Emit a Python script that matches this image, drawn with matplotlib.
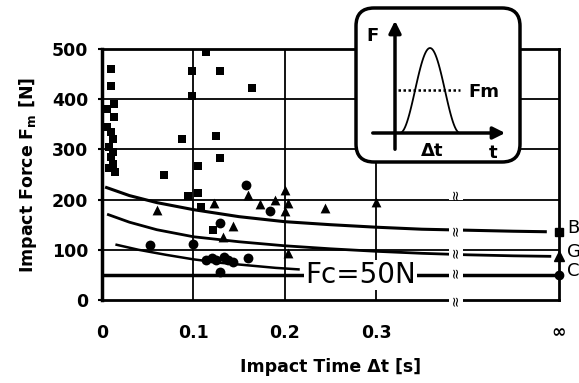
import numpy as np
import matplotlib
matplotlib.use('Agg')
import matplotlib.pyplot as plt
from matplotlib.patches import FancyBboxPatch

plt.rcParams['font.family'] = ['DejaVu Sans']

# scatter data: impact time [s], impact force [N]
sq_t = [0.010, 0.010, 0.013, 0.005, 0.013, 0.006, 0.010, 0.012, 0.008, 0.012, 0.010, 0.012,
        0.014, 0.008, 0.114, 0.099, 0.129, 0.164, 0.099, 0.125, 0.087, 0.129, 0.105, 0.068,
        0.094, 0.105, 0.108, 0.121]
sq_F = [460, 427, 390, 380, 365, 345, 335, 320, 305, 295, 285, 270,
        255, 262, 494, 456, 456, 423, 406, 326, 320, 282, 266, 250,
        208, 214, 186, 140]

tri_t = [0.060, 0.123, 0.143, 0.160, 0.173, 0.189, 0.200, 0.203, 0.200, 0.203, 0.244, 0.300, 0.132]
tri_F = [180, 194, 148, 210, 192, 200, 220, 194, 178, 94, 184, 196, 126]

cir_t = [0.052, 0.0995, 0.114, 0.120, 0.125, 0.134, 0.138, 0.143, 0.160, 0.129, 0.158, 0.184, 0.129]
cir_F = [110, 112, 80, 84, 80, 86, 80, 76, 84, 56, 230, 178, 154]

# fitted curves
B_t = [0.005, 0.03, 0.06, 0.10, 0.15, 0.20, 0.25, 0.30, 0.35, 0.40, 0.45, 0.485]
B_F = [224, 208, 194, 180, 166, 156, 150, 145, 141, 139, 137, 136]
G_t = [0.007, 0.03, 0.06, 0.10, 0.15, 0.20, 0.25, 0.30, 0.35, 0.40, 0.45, 0.49]
G_F = [170, 155, 140, 126, 116, 108, 102, 97, 93, 90, 88, 87]
C_t = [0.016, 0.04, 0.07, 0.10, 0.13, 0.16, 0.19, 0.215]
C_F = [110, 100, 90, 81, 74, 69, 64, 61]

Fc = 50
inf_F = {'B': 136, 'G': 88, 'C': 50}
t_inf = 0.5
t_break = 0.387
break_F = [210, 139, 95, 55, 0]

fig = plt.figure(figsize=(5.79, 3.83), dpi=100)
ax = fig.add_axes([102 / 579, 83 / 383, 457 / 579, 251 / 383])

ax.set_xlim(0, t_inf)
ax.set_ylim(0, 500)
ax.set_xticks([0, 0.1, 0.2, 0.3, t_inf])
ax.set_xticklabels(['0', '0.1', '0.2', '0.3', '∞'])
ax.set_yticks([0, 100, 200, 300, 400, 500])
ax.tick_params(axis='both', labelsize=12.5, length=3, width=1.5, direction='out')
ax.tick_params(axis='x', pad=17, length=0)
ax.tick_params(axis='y', pad=7)
for lbl in ax.get_xticklabels() + ax.get_yticklabels():
    lbl.set_fontweight('bold')
for s in ax.spines.values():
    s.set_linewidth(2)
ax.spines['left'].set_linewidth(2.5)

for y in [100, 200, 300, 400]:
    ax.axhline(y, color='k', lw=1.3, zorder=1)
for x in [0.1, 0.2, 0.3]:
    ax.axvline(x, color='k', lw=1.3, zorder=1)

ax.plot(B_t, B_F, color='k', lw=2.2, zorder=2)
ax.plot(G_t, G_F, color='k', lw=2.0, zorder=2)
ax.plot(C_t, C_F, color='k', lw=1.8, zorder=2)
ax.axhline(Fc, color='k', lw=2.5, zorder=2)

ax.scatter(sq_t, sq_F, marker='s', s=34, color='k', zorder=3, linewidths=0)
ax.scatter(tri_t, tri_F, marker='^', s=50, color='k', zorder=3, linewidths=0)
ax.scatter(cir_t, cir_F, marker='o', s=50, color='k', zorder=3, linewidths=0)

ax.plot([t_inf], [inf_F['B']], 's', color='k', ms=6, clip_on=False, zorder=4)
ax.plot([t_inf], [inf_F['G']], '^', color='k', ms=7, clip_on=False, zorder=4)
ax.plot([t_inf], [inf_F['C']], 'o', color='k', ms=6, clip_on=False, zorder=4)
for lab, f in inf_F.items():
    ax.text(t_inf + 0.009, f + 8, lab, fontsize=13, va='center', ha='left', clip_on=False)

ax.text(0.283, Fc, 'Fc=50N', fontsize=20, ha='center', va='center', zorder=5,
        bbox=dict(facecolor='white', edgecolor='none', pad=0.5))

# axis break marks
for f in break_F:
    ax.text(t_break, f, '≈', rotation=90, fontsize=10, ha='center', va='center', zorder=5,
            clip_on=False, bbox=dict(facecolor='white', edgecolor='none', pad=0))

ax.set_ylabel('Impact Force F$_\\mathregular{m}$ [N]', fontsize=12.5, fontweight='bold', labelpad=9)
ax.set_xlabel('Impact Time Δt [s]', fontsize=12.5, fontweight='bold', labelpad=12)

# inset sketch of the force pulse
ins = fig.add_axes([350 / 579, (383 - 168) / 383, 177 / 579, 166 / 383])
ins.set_xlim(350, 527)
ins.set_ylim(168, 2)
ins.axis('off')
ins.add_patch(FancyBboxPatch((356, 8), 164, 154, boxstyle='round,pad=0,rounding_size=18',
                             facecolor='white', edgecolor='k', lw=2.5))
ins.annotate('', xy=(395, 18), xytext=(395, 152),
             arrowprops=dict(arrowstyle='-|>', lw=2.5, color='k', mutation_scale=18))
ins.annotate('', xy=(508, 133), xytext=(370, 133),
             arrowprops=dict(arrowstyle='-|>', lw=2.5, color='k', mutation_scale=18))
px = np.linspace(400, 460, 60)
ins.plot(px, 133 - 85 * np.sin(np.pi * (px - 400) / 60) ** 2, color='k', lw=1.3)
ins.plot([398, 460], [90, 90], color='k', lw=1.8, ls=(0, (1, 1)))
ins.text(373, 36, 'F', fontsize=13, fontweight='bold', ha='center', va='center')
ins.text(468, 92, 'Fm', fontsize=13, fontweight='bold', ha='left', va='center')
ins.text(432, 151, 'Δt', fontsize=13, fontweight='bold', ha='center', va='center')
ins.text(493, 153, 't', fontsize=13, fontweight='bold', ha='center', va='center')

fig.savefig('out.png', dpi=100)
